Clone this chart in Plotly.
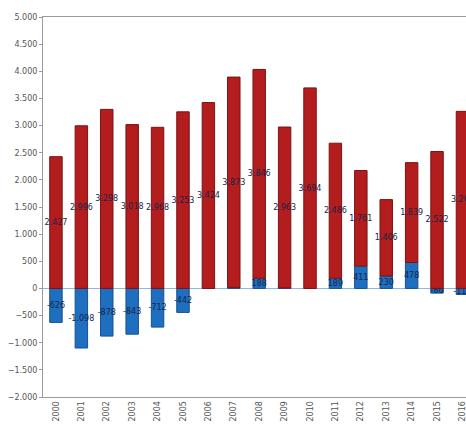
import plotly.graph_objects as go

years = [str(y) for y in range(2000, 2017)]
red_values = [2427, 2996, 3298, 3018, 2968, 3253, 3424, 3873, 3846, 2963, 3694,
              2486, 1761, 1406, 1839, 2522, 3262]
blue_values = [-626, -1098, -878, -843, -712, -442, 0, 20, 188, 10, 0,
               189, 411, 230, 478, -86, -112]
y_ticks = list(range(-2000, 5001, 500))


def fmt(v):
    return f"{v:,}".replace(",", ".")


red_text = [fmt(v) for v in red_values]
blue_text = [fmt(v) if abs(v) >= 50 else "" for v in blue_values]

fig = go.Figure()
fig.add_trace(go.Bar(
    x=years, y=blue_values, text=blue_text,
    marker=dict(color="#1f6fc0", line=dict(color="#15528f", width=1)),
    textposition="inside", insidetextanchor="middle", textangle=0,
    textfont=dict(color="#16264a", size=8, family="DejaVu Sans"),
    showlegend=False,
))
fig.add_trace(go.Bar(
    x=years, y=red_values, text=red_text,
    marker=dict(color="#b31d1d", line=dict(color="#7d1212", width=1)),
    textposition="inside", insidetextanchor="middle", textangle=0,
    textfont=dict(color="#16264a", size=8, family="DejaVu Sans"),
    showlegend=False,
))

fig.update_layout(
    width=466, height=425,
    margin=dict(l=43, r=0, t=17, b=28),
    barmode="relative", bargap=0.51,
    plot_bgcolor="white", paper_bgcolor="white",
    separators=",.",
    uniformtext=dict(mode="show", minsize=8),
    xaxis=dict(
        type="category", range=[-0.51, 16.14], automargin=False,
        showline=True, linecolor="#9a9a9a", linewidth=1, mirror=True,
        tickangle=-90, tickfont=dict(size=8, color="#555555", family="DejaVu Sans"),
        ticks="", showgrid=False,
    ),
    yaxis=dict(
        range=[-2000, 5000], tickvals=y_ticks, tickformat=",d", automargin=False,
        showline=True, linecolor="#9a9a9a", linewidth=1,
        ticks="outside", ticklen=3, tickcolor="#9a9a9a",
        tickfont=dict(size=8, color="#555555", family="DejaVu Sans"),
        showgrid=False, zeroline=True, zerolinecolor="#8fb8e0", zerolinewidth=1,
    ),
)

fig.write_html(
    "out.html",
    config={"displayModeBar": False},
    post_script="document.body.style.margin='0';document.body.style.overflow='hidden';",
)
